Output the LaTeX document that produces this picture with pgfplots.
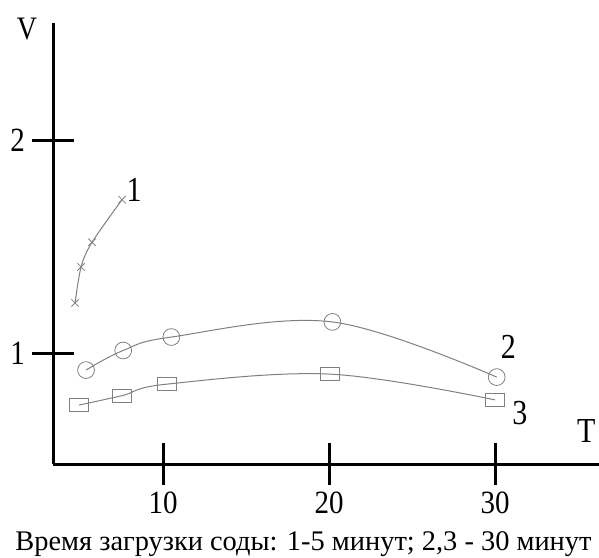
\documentclass[border=0pt]{standalone}
\usepackage{pgfplots}
\pgfplotsset{compat=1.18}
\usepackage{fontspec}
\setmainfont{Liberation Serif}
\definecolor{curve}{gray}{0.5}
\begin{document}
\begin{tikzpicture}
\useasboundingbox (0,0) rectangle (299.5pt,278.5pt);
\begin{axis}[
  at={(26.5pt,46.5pt)}, anchor=south west,
  x=8.3pt, y=106.5pt,
  xmin=3.37, xmax=36.26, ymin=0.479, ymax=2.55,
  axis x line=bottom, axis y line=left,
  axis line style={-, line width=1.5pt, black},
  xtick={10,20,30}, ytick={1,2},
  major tick length=21pt,
  tick style={line width=1.5pt, black},
  minor tick num=0,
  tick align=center, xtick align=center, ytick align=center,
  yticklabel style={font=\fontsize{14.5}{16}\selectfont, yscale=1.17},
  xticklabel style={font=\fontsize{14.5}{16}\selectfont, yscale=1.12, yshift=0.5pt},
  /pgf/number format/assume math mode=true,
  clip=false,
]
\addplot[curve, line width=0.5pt, smooth, mark=x, mark size=2.6pt, mark options={solid, line width=0.4pt}]
  coordinates {(4.70,1.235) (5.06,1.404) (5.72,1.52) (7.53,1.72)};
\addplot[curve, line width=0.5pt, smooth, tension=0.6, mark=o, mark size=4.2pt, mark options={solid, line width=0.4pt}]
  coordinates {(5.36,0.92) (7.6,1.012) (10.5,1.075) (20.2,1.146) (30.1,0.887)};
\addplot[curve, line width=0.5pt, smooth, tension=0.6, mark=square, mark size=3.2pt, mark options={solid, line width=0.4pt, xscale=1.5}]
  coordinates {(4.94,0.756) (7.53,0.80) (10.24,0.854) (20.06,0.901) (30.0,0.78)};
\node[font=\fontsize{15}{17}\selectfont, yscale=1.17] at (axis cs:8.25,1.765) {1};
\node[font=\fontsize{15}{17}\selectfont, yscale=1.17] at (axis cs:30.8,1.03) {2};
\node[font=\fontsize{15}{17}\selectfont, yscale=1.17] at (axis cs:31.5,0.72) {3};
\node[font=\fontsize{14}{16}\selectfont, yscale=1.17] at (axis cs:1.8,2.52) {V};
\node[font=\fontsize{15}{17}\selectfont, yscale=1.17] at (axis cs:35.5,0.634) {T};
\end{axis}
\node[anchor=base west, inner sep=0pt, font=\fontsize{14.2}{16}\selectfont] at (7.5pt,3.2pt) {Время загрузки соды: 1-5 минут; 2,3 - 30 минут};
\end{tikzpicture}
\end{document}
